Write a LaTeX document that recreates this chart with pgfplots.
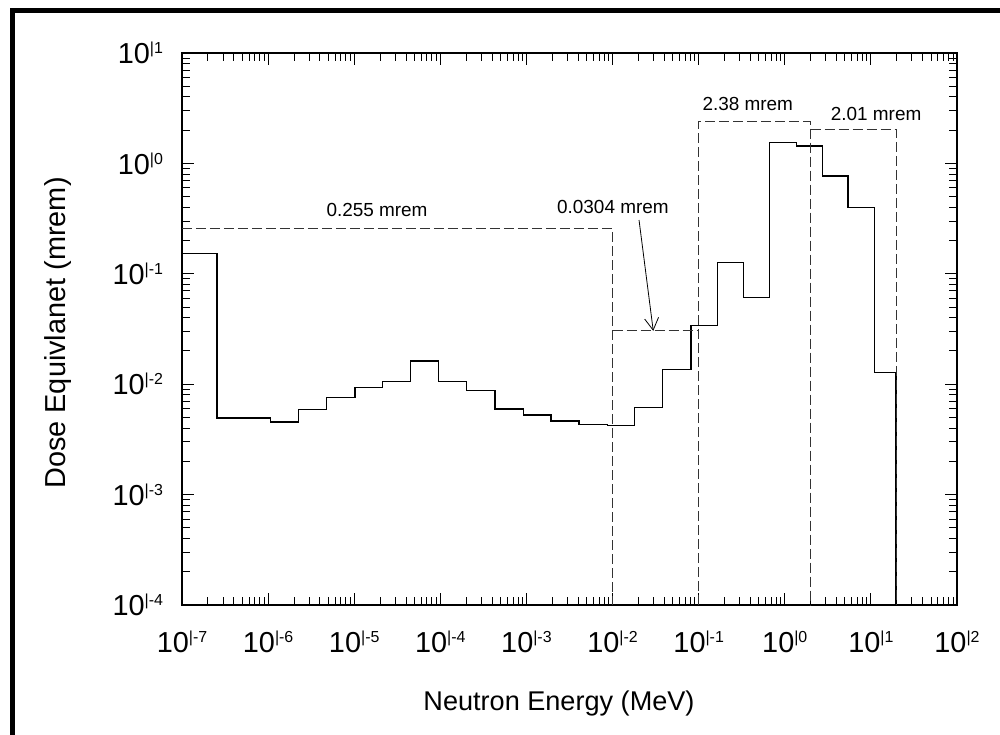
\documentclass[border=0pt]{standalone}
\usepackage{fontspec}
\setmainfont{Liberation Sans}
\usepackage{pgfplots}
\pgfplotsset{compat=1.18}
\usetikzlibrary{arrows.meta}

% decade label as drawn in the original: 10 with a raised "|n"
\newcommand{\dec}[1]{10\raisebox{5bp}{\fontsize{8}{9}\selectfont |#1}}

\begin{document}
\begin{tikzpicture}
\path[use as bounding box] (0,0) rectangle (500bp,367.5bp);
\begin{axis}[
    at={(91bp,65bp)}, anchor=south west,
    scale only axis, width=387.5bp, height=276bp,
    xmode=log, ymode=log,
    xmin=1e-7, xmax=1e2, ymin=1e-4, ymax=10,
    xtick={1e-7,1e-6,1e-5,1e-4,1e-3,1e-2,1e-1,1,10,100},
    xticklabels={\dec{-7},\dec{-6},\dec{-5},\dec{-4},\dec{-3},\dec{-2},\dec{-1},\dec{0},\dec{1},\dec{2}},
    ytick={1e-4,1e-3,1e-2,1e-1,1,10},
    yticklabels={\dec{-4},\dec{-3},\dec{-2},\dec{-1},\dec{0},\dec{1}},
    tick align=inside,
    major tick length=6bp, minor tick length=4bp,
    every tick/.style={black, line width=0.5bp},
    axis line style={line width=0.6bp},
    ticklabel style={font=\fontsize{14.5}{16}\selectfont},
    xticklabel style={yshift=-9.5bp},
    yticklabel style={xshift=-6bp},
    dose/.style={gray!40!black, line width=0.5bp, dash pattern=on 5bp off 2bp},
]
\addplot[black, line width=0.6bp, const plot] coordinates {
    (1e-7,0.153) (2.55e-7,4.94e-3) (1.07e-6,4.55e-3) (2.24e-6,5.93e-3)
    (4.79e-6,7.55e-3) (1.02e-5,9.3e-3) (2.14e-5,1.05e-2) (4.53e-5,1.62e-2)
    (9.46e-5,1.05e-2) (2.02e-4,8.7e-3) (4.32e-4,5.96e-3) (9.20e-4,5.26e-3)
    (1.93e-3,4.64e-3) (4.07e-3,4.30e-3) (8.69e-3,4.21e-3) (1.79e-2,6.12e-3)
    (3.82e-2,1.35e-2) (8.15e-2,3.42e-2) (0.166,0.126) (0.333,0.0612)
    (0.668,1.54) (1.36,1.44) (2.73,0.769) (5.42,0.400) (11.0,0.0127)
    (19.6,1e-4)
};
% integrated dose boxes, each vertical drawn once
\addplot[dose] coordinates {(1e-7,0.255) (1e-2,0.255) (1e-2,1e-4)};
\addplot[dose] coordinates {(1e-2,0.0304) (0.1,0.0304)};
\addplot[dose] coordinates {(0.1,1e-4) (0.1,2.38) (2,2.38) (2,1e-4)};
\addplot[dose] coordinates {(2,2.01) (20,2.01) (20,1e-4)};

\node[font=\fontsize{9.5}{11}\selectfont] at (axis cs:1.84e-5,0.381) {0.255 mrem};
\node[font=\fontsize{9.5}{11}\selectfont] at (axis cs:1.01e-2,0.399) {0.0304 mrem};
\node[font=\fontsize{9.5}{11}\selectfont] at (axis cs:0.372,3.47) {2.38 mrem};
\node[font=\fontsize{9.5}{11}\selectfont] at (axis cs:11.5,2.82) {2.01 mrem};
\draw[line width=0.4bp, -{Straight Barb[length=6bp,width=7bp]}]
    (axis cs:0.0203,0.307) -- (axis cs:0.0297,0.0304);
\end{axis}
\node[anchor=base, font=\fontsize{13.6}{15}\selectfont] at (279.5bp,12.15bp) {Neutron Energy (MeV)};
\node[anchor=base, rotate=90, font=\fontsize{14.5}{16}\selectfont] at (32.5bp,201bp) {Dose Equivlanet (mrem)};
\draw[line width=2.5bp] (6.25bp,-5bp) -- (6.25bp,362.25bp) -- (505bp,362.25bp);
\end{tikzpicture}
\end{document}
